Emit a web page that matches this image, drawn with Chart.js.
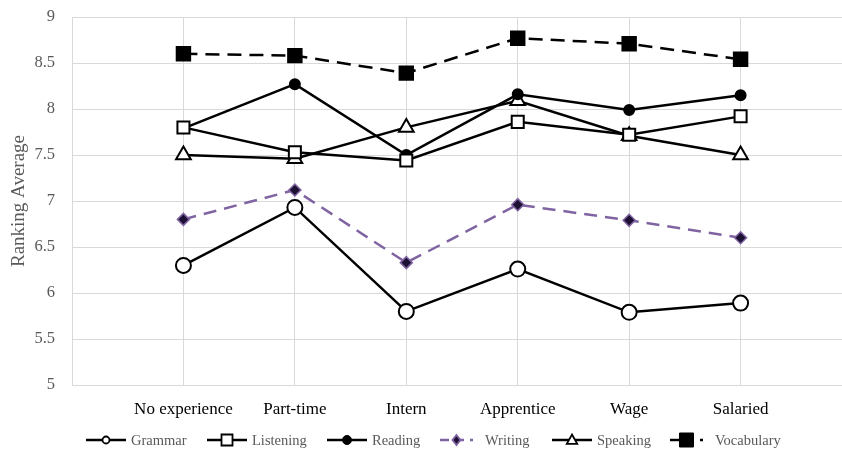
<!DOCTYPE html>
<html><head><meta charset="utf-8">
<script src="https://cdn.jsdelivr.net/npm/chart.js@4/dist/chart.umd.min.js"></script>
<style>html,body{margin:0;padding:0;background:#fff;overflow:hidden}</style>
</head><body><canvas id="c" width="842" height="452"></canvas>
<script>
const categories = ['No experience','Part-time','Intern','Apprentice','Wage','Salaried'];
const grammar    = [6.30, 6.93, 5.80, 6.26, 5.79, 5.89];
const listening  = [7.80, 7.53, 7.44, 7.86, 7.72, 7.92];
const reading    = [7.79, 8.27, 7.50, 8.16, 7.99, 8.15];
const writing    = [6.80, 7.12, 6.33, 6.96, 6.79, 6.60];
const speaking   = [7.50, 7.46, 7.80, 8.09, 7.71, 7.50];
const vocabulary = [8.60, 8.58, 8.39, 8.77, 8.71, 8.54];
const seriesNames = ['Grammar','Listening','Reading','Writing','Speaking','Vocabulary'];
const yMin = 5, yMax = 9, yStep = 0.5;

const FONT = '"Liberation Serif","Times New Roman",serif';
const toPts = arr => arr.map((v, i) => ({x: i + 1, y: v}));
const PURPLE = '#8064a2';

const styles = [
  {pointStyle:'circle', r:7.5, fill:'#ffffff', stroke:'#000', color:'#000', dash:[], lr:3.5},
  {pointStyle:'rect', r:8.5, fill:'#ffffff', stroke:'#000', color:'#000', dash:[], lr:5.5},
  {pointStyle:'circle', r:5, fill:'#000', stroke:'#000', color:'#000', dash:[], lr:4.5},
  {pointStyle:'rectRot', r:6, fill:'#1c1033', stroke:PURPLE, color:PURPLE, dash:[13,8], lr:5},
  {pointStyle:'triangle', r:8.5, fill:'#ffffff', stroke:'#000', color:'#000', dash:[], lr:5.5},
  {pointStyle:'rect', r:9.5, fill:'#000', stroke:'#000', color:'#000', dash:[14,8], lr:7}
];
const allData = [grammar, listening, reading, writing, speaking, vocabulary];

const datasets = allData.map((arr, i) => ({
  label: seriesNames[i],
  data: toPts(arr),
  borderColor: styles[i].color,
  borderWidth: 2.5,
  borderDash: styles[i].dash,
  pointStyle: styles[i].pointStyle,
  pointRadius: styles[i].r,
  pointBackgroundColor: styles[i].fill,
  pointBorderColor: styles[i].stroke,
  pointBorderWidth: i === 3 ? 1.5 : 2,
  tension: 0,
  fill: false,
  clip: false
}));

function drawMarker(ctx, style, x, y, r, fill, stroke, lw) {
  ctx.save();
  ctx.setLineDash([]);
  ctx.fillStyle = fill; ctx.strokeStyle = stroke; ctx.lineWidth = lw;
  ctx.beginPath();
  if (style === 'circle') {
    ctx.arc(x, y, r, 0, Math.PI * 2);
  } else if (style === 'rect') {
    ctx.rect(x - r, y - r, 2 * r, 2 * r);
  } else if (style === 'rectRot') {
    ctx.moveTo(x, y - r); ctx.lineTo(x + r * 0.8, y); ctx.lineTo(x, y + r); ctx.lineTo(x - r * 0.8, y); ctx.closePath();
  } else if (style === 'triangle') {
    ctx.moveTo(x, y - r); ctx.lineTo(x + r * 0.95, y + r * 0.7); ctx.lineTo(x - r * 0.95, y + r * 0.7); ctx.closePath();
  }
  ctx.fill(); ctx.stroke();
  ctx.restore();
}

const legendPlugin = {
  id: 'lineLegend',
  afterDraw(chart) {
    const ctx = chart.ctx;
    const starts = [86, 207, 327, 440, 552, 670];
    const y = 440;
    ctx.save();
    ctx.font = '14.5px ' + FONT;
    ctx.textBaseline = 'middle';
    chart.data.datasets.forEach((ds, i) => {
      const s = styles[i];
      const x0 = starts[i];
      const len = i === 3 || i === 5 ? 33 : 40;
      ctx.save();
      ctx.strokeStyle = s.color;
      ctx.lineWidth = 2.5;
      if (s.dash.length) ctx.setLineDash([9, 6]); else ctx.setLineDash([]);
      ctx.beginPath(); ctx.moveTo(x0, y); ctx.lineTo(x0 + len, y); ctx.stroke();
      ctx.restore();
      drawMarker(ctx, s.pointStyle, x0 + len / 2, y, s.lr,
        s.fill, s.stroke, i === 5 || i === 2 ? 1 : 1.8);
      ctx.fillStyle = '#595959';
      ctx.textAlign = 'left';
      ctx.fillText(ds.label, x0 + len + (i === 3 || i === 5 ? 12 : 5), y + 1);
    });
    ctx.restore();
  }
};

const zeroPad = s => { s.paddingLeft = 0; s.paddingRight = 0; s.paddingTop = 0; s.paddingBottom = 0; };

new Chart(document.getElementById('c'), {
  type: 'line',
  data: { datasets },
  plugins: [legendPlugin],
  options: {
    responsive: false,
    animation: false,
    layout: { autoPadding: false, padding: { left: 0, right: 0, top: 17, bottom: 0 } },
    plugins: { legend: { display: false }, tooltip: { enabled: false } },
    scales: {
      x: {
        type: 'linear',
        min: 0, max: 6.91,
        afterBuildTicks: s => { s.ticks = [0,1,2,3,4,5,6].map(v => ({value: v})); },
        afterFit: s => { s.height = 67; zeroPad(s); },
        grid: { color: '#d9d9d9', lineWidth: 1, drawTicks: false },
        border: { display: true, color: '#d9d9d9' },
        ticks: {
          padding: 14,
          autoSkip: false,
          maxRotation: 0,
          color: '#000',
          font: { family: FONT, size: 17 },
          callback: v => categories[v - 1] || ''
        }
      },
      y: {
        min: yMin, max: yMax,
        afterFit: s => { s.width = 72; zeroPad(s); },
        grid: { color: '#d9d9d9', lineWidth: 1, drawTicks: false },
        border: { display: true, color: '#d9d9d9' },
        ticks: {
          stepSize: yStep,
          padding: 17,
          color: '#595959',
          font: { family: FONT, size: 16.5 },
          callback: v => String(v)
        },
        title: {
          display: true,
          text: 'Ranking Average',
          color: '#595959',
          font: { family: FONT, size: 19 },
          padding: { top: 8, bottom: 0 }
        }
      }
    }
  }
});
</script>
</body></html>
